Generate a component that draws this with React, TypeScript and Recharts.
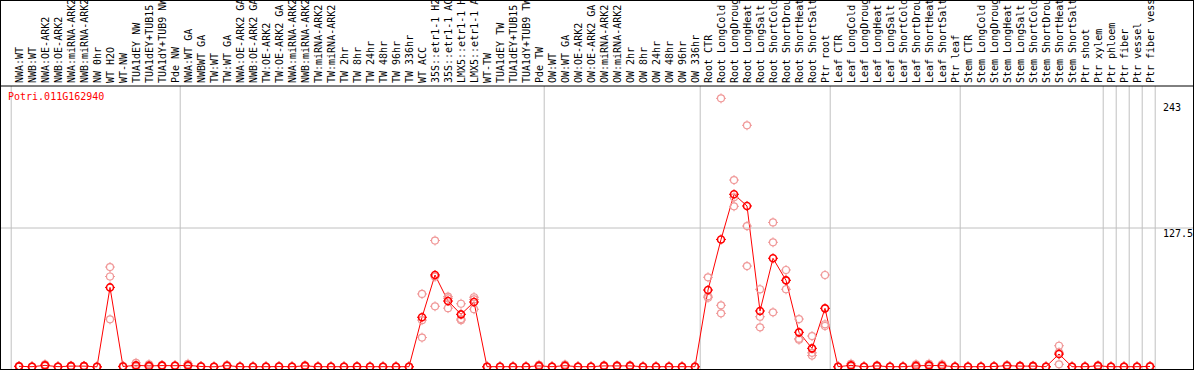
import React from 'react'
import { LineChart, Line, XAxis, YAxis, ReferenceLine } from 'recharts'

// sample names, in plot order
const labels = [
  'NWA:WT', 'NWB:WT', 'NWA:OE-ARK2', 'NWB:OE-ARK2', 'NWA:miRNA-ARK2', 'NWB:miRNA-ARK2', 'NW 0hr',
  'WT H2O', 'WT-NW', 'TUA1dEY NW', 'TUA1dEY+TUB15 NW', 'TUA1dY+TUB9 NW', 'Pde NW',
  'NWA:WT GA', 'NWBWT GA', 'TW:WT', 'TW:WT GA', 'NWA:OE-ARK2 GA', 'NWB:OE-ARK2 GA', 'TW:OE-ARK2',
  'TW:OE-ARK2 GA', 'NWA:miRNA-ARK2 GA', 'NWB:miRNA-ARK2 GA', 'TW:miRNA-ARK2', 'TW:miRNA-ARK2 GA',
  'TW 2hr', 'TW 8hr', 'TW 24hr', 'TW 48hr', 'TW 96hr', 'TW 336hr', 'WT ACC',
  '35S::etr1-1 H2O', '35S::etr1-1 ACC', 'LMX5::etr1-1 H2O', 'LMX5::etr1-1 ACC', 'WT-TW',
  'TUA1dEY TW', 'TUA1dEY+TUB15 TW', 'TUA1dY+TUB9 TW', 'Pde TW',
  'OW:WT', 'OW:WT GA', 'OW:OE-ARK2', 'OW:OE-ARK2 GA', 'OW:miRNA-ARK2', 'OW:miRNA-ARK2 GA',
  'OW 2hr', 'OW 8hr', 'OW 24hr', 'OW 48hr', 'OW 96hr', 'OW 336hr',
  'Root CTR', 'Root LongCold', 'Root LongDrought', 'Root LongHeat', 'Root LongSalt',
  'Root ShortCold', 'Root ShortDrought', 'Root ShortHeat', 'Root ShortSalt', 'Ptr root',
  'Leaf CTR', 'Leaf LongCold', 'Leaf LongDrought', 'Leaf LongHeat', 'Leaf LongSalt',
  'Leaf ShortCold', 'Leaf ShortDrought', 'Leaf ShortHeat', 'Leaf ShortSalt', 'Ptr leaf',
  'Stem CTR', 'Stem LongCold', 'Stem LongDrought', 'Stem LongHeat', 'Stem LongSalt',
  'Stem ShortCold', 'Stem ShortDrought', 'Stem ShortHeat', 'Stem ShortSalt', 'Ptr shoot', 'Ptr xylem',
  'Ptr phloem', 'Ptr fiber', 'Ptr vessel', 'Ptr fiber vessel',
]

// mean expression
const means = [
  0.6, 0.3, 1.5, 0.3, 0.8, 0.8, 0.2, 73, 0.5, 1.5, 1.0, 1.3, 1.2,
  1.5, 0.5, 0.2, 1.2, 0.3, 0.3, 0.3, 0.4, 0.3, 1.0, 0.3, 0.3, 0.3, 0.4, 0.3, 0.3, 0.3, 0.3,
  45.6, 84.4, 60.5, 48.3, 59.6, 0.3, 0.3, 0.3, 0.3, 1.0,
  0.3, 1.2, 0.3, 0.3, 1.0, 1.0, 1.0, 0.3, 0.3, 0.3, 0.3, 0.3,
  70.6, 117, 158.4, 147.7, 51.4, 99.7, 79.5, 31.8, 17.1, 53.8,
  0.3, 1.5, 0.3, 1.0, 0.3, 0.3, 1.0, 1.5, 1.2, 0.3,
  0.3, 0.3, 0.5, 1.2, 0.8, 0.8, 0.3, 11.9, 0.3, 0.3, 1.0,
  0.3, 0.3, 0.3, 0.5,
]

// replicates
const rep1 = [
  0.8, 0.4, 2.5, 0.4, 1.2, 1.0, 0.3, 91.7, 0.8, 3.8, 2.5, 1.8, 1.6,
  3.0, 0.7, 0.3, 1.8, 0.4, 0.4, 0.4, 0.6, 0.4, 1.6, 0.4, 0.4, 0.4, 0.6, 0.4, 0.4, 0.4, 0.4,
  67, 116, 64.5, 58, 64, 0.4, 0.4, 0.4, 0.4, 2.0,
  0.4, 2.2, 0.4, 0.4, 1.6, 1.5, 1.6, 0.4, 0.4, 0.4, 0.4, 0.4,
  82.3, 246.4, 171.5, 221.7, 71.3, 132.6, 89, 44, 28.4, 84.4,
  0.4, 3.0, 0.4, 1.6, 0.4, 0.4, 2.5, 3.0, 2.5, 0.4,
  0.4, 0.4, 0.7, 1.8, 1.2, 1.2, 0.4, 19.5, 0.4, 0.4, 1.6,
  0.4, 0.4, 0.4, 0.8,
]
const rep2 = [
  0.5, 0.3, 1.2, 0.3, 0.7, 0.8, 0.2, 83, 0.4, 0.4, 0.3, 1.2, 1.0,
  0.9, 0.5, 0.2, 1.0, 0.3, 0.3, 0.3, 0.4, 0.3, 0.9, 0.3, 0.3, 0.3, 0.4, 0.3, 0.3, 0.3, 0.3,
  43, 82.8, 63, 44, 62, 0.3, 0.3, 0.3, 0.3, 0.6,
  0.3, 0.9, 0.3, 0.3, 0.8, 0.9, 0.8, 0.3, 0.3, 0.3, 0.3, 0.3,
  65, 56.6, 155.6, 129.3, 46.1, 114.4, 79.5, 26, 13, 39.2,
  0.3, 1.0, 0.3, 0.8, 0.3, 0.3, 0.5, 1.0, 1.0, 0.3,
  0.3, 0.3, 0.5, 1.2, 0.8, 0.8, 0.3, 13.5, 0.3, 0.3, 0.9,
  0.3, 0.3, 0.3, 0.5,
]
const rep3 = [
  0.5, 0.2, 0.8, 0.2, 0.5, 0.6, 0.1, 43.7, 0.3, 0.3, 0.2, 0.9, 0.9,
  0.6, 0.3, 0.1, 0.8, 0.2, 0.2, 0.2, 0.2, 0.2, 0.5, 0.2, 0.2, 0.2, 0.2, 0.2, 0.2, 0.2, 0.2,
  27, 55.7, 54, 43, 53, 0.2, 0.2, 0.2, 0.2, 0.4,
  0.2, 0.5, 0.2, 0.2, 0.6, 0.6, 0.6, 0.2, 0.2, 0.2, 0.2, 0.2,
  63.6, 49.2, 147.4, 92.6, 36.4, 50.2, 71.3, 25, 10.5, 37.6,
  0.2, 0.5, 0.2, 0.6, 0.2, 0.2, 0.2, 0.5, 0.2, 0.2,
  0.2, 0.2, 0.3, 0.6, 0.4, 0.4, 0.2, 2.5, 0.2, 0.2, 0.5,
  0.2, 0.2, 0.2, 0.3,
]

// first sample of each block (separator drawn before it)
const groupStarts = [0, 13, 41, 53, 63, 73, 84, 85, 86, 87, 88]
const yTicks = [0, 127.5, 243]
const title = 'Potri.011G162940'

const W = 1192
const H = 368
const MONO = '"DejaVu Sans Mono", "Liberation Mono", monospace'

const data = labels.map((name, i) => ({
  idx: i, name, mean: means[i], r1: rep1[i], r2: rep2[i], r3: rep3[i],
}))

const Ring = ({ cx, cy, color, w }: any) => (
  <g>
    <circle cx={cx} cy={cy} r={3.5} fill="none" stroke={color} strokeWidth={w} />
    <line x1={cx} y1={cy - 5} x2={cx} y2={cy - 3.5} stroke={color} strokeWidth={1} />
    <line x1={cx} y1={cy + 3.5} x2={cx} y2={cy + 5} stroke={color} strokeWidth={1} />
    <line x1={cx - 5} y1={cy} x2={cx - 3.5} y2={cy} stroke={color} strokeWidth={1} />
    <line x1={cx + 3.5} y1={cy} x2={cx + 5} y2={cy} stroke={color} strokeWidth={1} />
  </g>
)

const repDot = (props: any) => {
  const { cx, cy, index } = props
  if (cx == null || cy == null) return <g key={index} />
  return <Ring key={index} cx={cx} cy={cy} color="#f09898" w={1.2} />
}

const meanDot = (props: any) => {
  const { cx, cy, index } = props
  if (cx == null || cy == null) return <g key={index} />
  return <Ring key={index} cx={cx} cy={cy} color="#ff0000" w={1.6} />
}

const SampleTick = (props: any) => {
  const { x, payload } = props
  const name = labels[payload.value] ?? ''
  return (
    <text x={x + 4} y={82} transform={`rotate(-90 ${x + 4} 82)`} textAnchor="start"
      fontFamily={MONO} fontSize={10} fill="#000">
      {name}
    </text>
  )
}

const ValueTick = (props: any) => {
  const { y, payload } = props
  const v = payload.value
  return (
    <text x={W - 30} y={v === 0 ? y - 1.5 : y + 8.5} textAnchor="start"
      fontFamily={MONO} fontSize={10} fill="#000">
      {v}
    </text>
  )
}

const App = () => {
  return (
    <div style={{ position: 'absolute', left: 0, top: 0, width: W, height: H, border: '1px solid #000', overflow: 'hidden', background: '#fff' }}>
      <LineChart width={W} height={H} data={data} margin={{ top: 0, right: 0, bottom: 0, left: 0 }}>
        <XAxis dataKey="idx" type="number" orientation="top" height={85}
          domain={[-18 / 13, -18 / 13 + W / 13]} allowDataOverflow
          ticks={labels.map((_, i) => i)} interval={0} tick={<SampleTick />}
          tickLine={false} axisLine={{ stroke: '#000', strokeWidth: 1 }} />
        <YAxis type="number" orientation="right" mirror width={40}
          domain={[-1.83, 257.75]} allowDataOverflow ticks={yTicks}
          tick={<ValueTick />} tickLine={false} axisLine={false} />
        {groupStarts.map(k => (
          <ReferenceLine key={k} x={k - 0.6} stroke="#c0c0c0" strokeWidth={1} />
        ))}
        <ReferenceLine y={127.5} stroke="#c0c0c0" strokeWidth={1} />
        <Line dataKey="r1" stroke="none" dot={repDot} activeDot={false} isAnimationActive={false} />
        <Line dataKey="r2" stroke="none" dot={repDot} activeDot={false} isAnimationActive={false} />
        <Line dataKey="r3" stroke="none" dot={repDot} activeDot={false} isAnimationActive={false} />
        <Line dataKey="mean" type="linear" stroke="#ff0000" strokeWidth={1} dot={meanDot}
          activeDot={false} isAnimationActive={false} />
      </LineChart>
      <div style={{ position: 'absolute', left: 7, top: 90, color: '#ff0000', fontFamily: MONO, fontSize: 10, lineHeight: '12px' }}>
        {title}
      </div>
    </div>
  )
}

export default App
